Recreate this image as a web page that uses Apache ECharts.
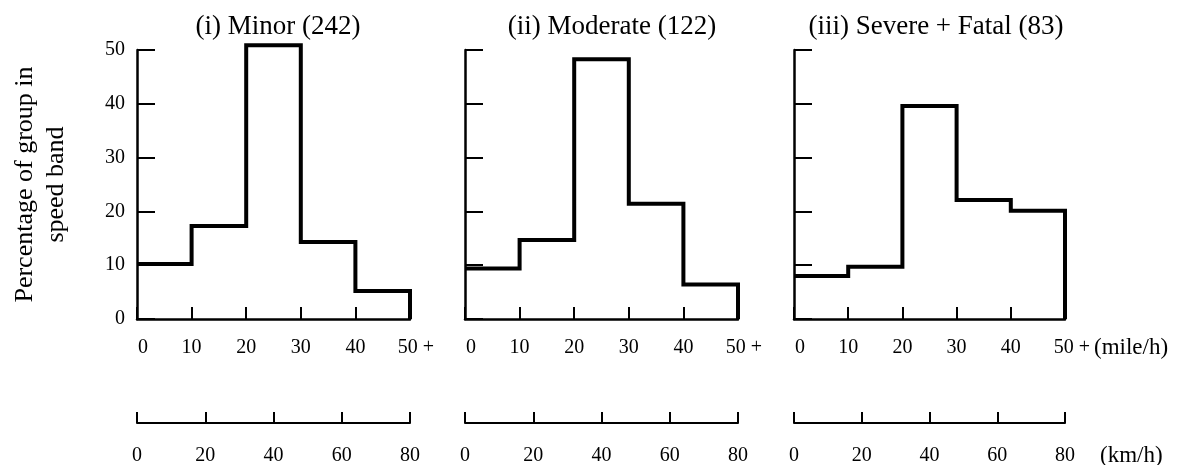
<!DOCTYPE html>
<html>
<head>
<meta charset="utf-8">
<script src="https://cdn.jsdelivr.net/npm/echarts@6/dist/echarts.min.js"></script>
<style>
  html, body { margin: 0; padding: 0; background: #fff; }
  #main { width: 1183px; height: 465px; }
</style>
</head>
<body>
<div id="main"></div>
<script>
// speed bands (mile/h), lower edge of each band + top of the last
var bands = [0, 10, 20, 30, 40, 50];
// percentage of group in each speed band
var minor = [10.2, 17.3, 50.9, 14.3, 5.2];
var moderate = [9.4, 14.7, 48.3, 21.4, 6.4];
var severe = [8.0, 9.7, 39.6, 22.1, 20.1];
var titles = ['(i) Minor (242)', '(ii) Moderate (122)', '(iii) Severe + Fatal (83)'];
var yTicks = [0, 10, 20, 30, 40, 50];
var kmTicks = [0, 20, 40, 60, 80];
var units = ['(mile/h)', '(km/h)'];

var FONT = 'Liberation Serif';
var chart = echarts.init(document.getElementById('main'));

// panel geometry
var panels = [
    {left: 137, width: 273, titleX: 278},
    {left: 465, width: 273, titleX: 612},
    {left: 794, width: 271, titleX: 936}
];
var groups = [minor, moderate, severe];
var KM_OFFSET = 104;

// step points: each band value held to the next edge, dropping to 0 at 50
function stepData(vals) {
    return bands.map(function (b, i) {
        return [b, i < vals.length ? vals[i] : 0];
    });
}

function rs(pad) {
    return {fontFamily: FONT, fontSize: 20, color: '#000', padding: pad};
}

var grid = [], xAxis = [], yAxis = [], series = [], title = [];
panels.forEach(function (p, i) {
    grid.push({left: p.left, top: 50, width: p.width, height: 269, outerBoundsMode: 'none', containLabel: false});

    title.push({
        text: titles[i],
        left: p.titleX - 5,
        top: 8,
        textAlign: 'center',
        textStyle: {fontFamily: FONT, fontSize: 27, fontWeight: 'normal', color: '#000'}
    });

    // mile/h axis
    xAxis.push({
        type: 'value', gridIndex: i, position: 'bottom',
        min: bands[0], max: bands[bands.length - 1], interval: 10,
        splitLine: {show: false},
        axisLine: {onZero: false, lineStyle: {color: '#000', width: 2.5}},
        axisTick: {inside: true, length: 12, lineStyle: {color: '#000', width: 2}},
        axisLabel: {
            margin: 19, fontFamily: FONT, fontSize: 20, color: '#000',
            showMinLabel: true, showMaxLabel: true,
            formatter: function (v) {
                if (v === 0) return '{s|0}';
                if (v === 50) return '{e|50 +}';
                return String(v);
            },
            rich: {
                s: rs([0, 0, 0, 12]),
                e: rs([0, 0, 0, i === 2 ? 14 : 12])
            }
        }
    });

    // km/h axis
    xAxis.push({
        type: 'value', gridIndex: i, position: 'bottom', offset: KM_OFFSET,
        min: kmTicks[0], max: kmTicks[kmTicks.length - 1], interval: 20,
        splitLine: {show: false},
        axisLine: {onZero: false, lineStyle: {color: '#000', width: 2}},
        axisTick: {inside: true, length: 11, lineStyle: {color: '#000', width: 2}},
        axisLabel: {margin: 23, fontFamily: FONT, fontSize: 20, color: '#000', showMinLabel: true, showMaxLabel: true}
    });

    yAxis.push({
        type: 'value', gridIndex: i,
        min: yTicks[0], max: yTicks[yTicks.length - 1], interval: 10,
        name: i === 0 ? 'Percentage of group in\nspeed band' : '',
        nameLocation: 'middle', nameRotate: 90, nameGap: 65,
        nameTextStyle: {fontFamily: FONT, fontSize: 26, color: '#000', lineHeight: 31},
        splitLine: {show: false},
        axisLine: {onZero: false, lineStyle: {color: '#000', width: 2.5}},
        axisTick: {inside: true, length: 18, lineStyle: {color: '#000', width: 2}},
        axisLabel: {show: i === 0, margin: 12, fontFamily: FONT, fontSize: 20, color: '#000'}
    });

    series.push({
        type: 'line',
        xAxisIndex: i * 2,
        yAxisIndex: i,
        step: 'end',
        symbol: 'none',
        clip: false,
        lineStyle: {color: '#000', width: 4, join: 'miter'},
        data: stepData(groups[i])
    });
});

chart.setOption({
    animation: false,
    backgroundColor: '#fff',
    title: title,
    grid: grid,
    xAxis: xAxis,
    yAxis: yAxis,
    series: series
});

// unit captions, placed after the last panel's axis ends
var endX = chart.convertToPixel({xAxisIndex: 4}, bands[bands.length - 1]);
var baseY = chart.convertToPixel({yAxisIndex: 2}, 0);
chart.setOption({
    graphic: [
        {type: 'text', x: endX + 29, y: baseY + 29,
         style: {text: units[0], fontFamily: FONT, fontSize: 23, fill: '#000', align: 'left', verticalAlign: 'middle'}},
        {type: 'text', x: endX + 35, y: baseY + KM_OFFSET + 33,
         style: {text: units[1], fontFamily: FONT, fontSize: 23, fill: '#000', align: 'left', verticalAlign: 'middle'}}
    ]
});
</script>
</body>
</html>
